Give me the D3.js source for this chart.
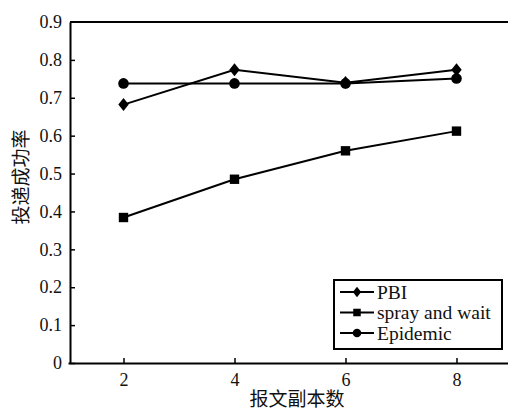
<!DOCTYPE html>
<html lang="zh">
<head>
<meta charset="UTF-8">
<title>投递成功率 vs 报文副本数</title>
<script src="https://cdn.jsdelivr.net/npm/d3@7"></script>
<style>
  body { margin: 0; background: #fff; }
  svg { display: block; }
  .title { font-family: "Noto Sans CJK SC", sans-serif; font-size: 19px; fill: #111; }
  .legend text { font-family: "Liberation Serif", serif; font-size: 19.5px; fill: #111; }
  .axis text { font-family: "Liberation Serif", serif; font-size: 18px; fill: #111; }
</style>
</head>
<body>
<script>
// data
var copies = [2, 4, 6, 8];
var pbi = [0.682, 0.774, 0.740, 0.774];
var sprayWait = [0.384, 0.485, 0.560, 0.612];
var epidemic = [0.738, 0.738, 0.738, 0.751];
var yTicks = [0, 0.1, 0.2, 0.3, 0.4, 0.5, 0.6, 0.7, 0.8, 0.9];

var series = [
  {name: "PBI", values: pbi, symbol: "diamond"},
  {name: "spray and wait", values: sprayWait, symbol: "square"},
  {name: "Epidemic", values: epidemic, symbol: "circle"}
];

var W = 508, H = 410;
var svg = d3.select("body").append("svg").attr("width", W).attr("height", H);

var x = d3.scaleLinear().domain([1, 9]).range([68, 512]);
var y = d3.scaleLinear().domain([0, 0.9]).range([363, 22]);

// frame: top line across, left and bottom axes
svg.append("line").attr("x1", x(1) + 2).attr("x2", W).attr("y1", y(0.9)).attr("y2", y(0.9))
  .attr("stroke", "#000").attr("stroke-width", 2);

var xAxis = svg.append("g").attr("class", "axis").attr("transform", "translate(0," + y(0) + ")")
  .call(d3.axisBottom(x).tickValues(copies).tickSizeInner(-5).tickSizeOuter(0).tickPadding(12));
var yAxis = svg.append("g").attr("class", "axis").attr("transform", "translate(" + (x(1) + 2) + ",0)")
  .call(d3.axisLeft(y).tickValues(yTicks).tickFormat(d3.format("")).tickSizeInner(-5).tickSizeOuter(0).tickPadding(8));
yAxis.selectAll(".tick").filter(function(d) { return d === 0.9; }).select("line").remove();
[xAxis, yAxis].forEach(function(a) {
  a.select(".domain").attr("stroke", "#000").attr("stroke-width", 2);
  a.selectAll(".tick line").attr("stroke", "#000").attr("stroke-width", 1.5);
  a.selectAll(".tick text").style("font-family", "'Liberation Serif', serif").style("font-size", "18px");
});
xAxis.selectAll(".tick text").attr("dy", "0.6em");

// axis titles
svg.append("text").attr("class", "title").attr("x", 297).attr("y", 406)
  .attr("text-anchor", "middle").text("报文副本数");
svg.append("text").attr("class", "title")
  .attr("transform", "translate(28,177) rotate(-90)")
  .attr("text-anchor", "middle").text("投递成功率");

// marker shapes, k scales them down for the legend
function marker(kind, k) {
  var p = d3.path();
  if (kind === "diamond") {
    p.moveTo(0, -6.5 * k); p.lineTo(5.2 * k, 0); p.lineTo(0, 6.5 * k); p.lineTo(-5.2 * k, 0); p.closePath();
  } else if (kind === "square") {
    p.rect(-4.7 * k, -4.7 * k, 9.4 * k, 9.4 * k);
  } else {
    p.arc(0, 0, 5.3 * k, 0, 2 * Math.PI);
  }
  return p.toString();
}

var line = d3.line().x(function(d, i) { return x(copies[i]); }).y(function(d) { return y(d); });

series.forEach(function(s) {
  svg.append("path").datum(s.values).attr("d", line)
    .attr("fill", "none").attr("stroke", "#000").attr("stroke-width", 2);
  svg.selectAll(null).data(s.values).enter().append("path")
    .attr("d", marker(s.symbol, 1))
    .attr("transform", function(d, i) { return "translate(" + x(copies[i]) + "," + y(d) + ")"; })
    .attr("fill", "#000");
});

// legend
var lg = svg.append("g").attr("class", "legend");
lg.append("rect").attr("x", 334).attr("y", 280).attr("width", 168).attr("height", 69)
  .attr("fill", "#fff").attr("stroke", "#000").attr("stroke-width", 2);
series.forEach(function(s, i) {
  var cy = 292 + i * 20.5;
  lg.append("line").attr("x1", 340).attr("x2", 374).attr("y1", cy).attr("y2", cy)
    .attr("stroke", "#000").attr("stroke-width", 2);
  lg.append("path").attr("d", marker(s.symbol, 0.8))
    .attr("transform", "translate(357," + cy + ")")
    .attr("fill", "#000");
  lg.append("text").attr("x", 377).attr("y", cy + 6.5).text(s.name);
});
</script>
</body>
</html>
